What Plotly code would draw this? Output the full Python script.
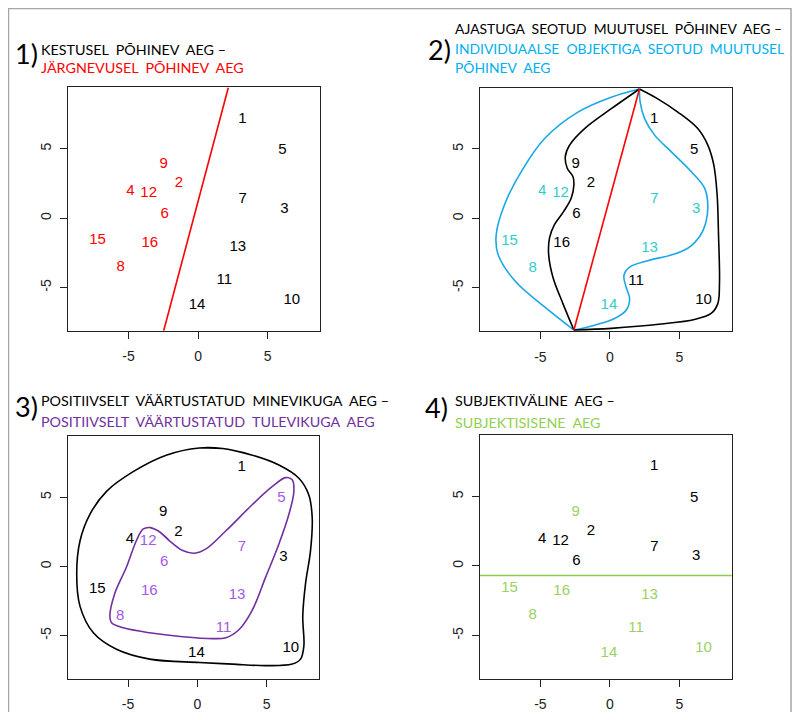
import plotly.graph_objects as go

# ---------------- data ----------------
labels = [str(i) for i in range(1, 17)]
pt_x = [3.19, -1.37, 6.21, -4.87, 6.07, -2.40, 3.21, -5.56, -2.47, 6.74, 1.89, -3.55, 2.86, -0.07, -7.22, -3.47]
pt_y = [7.14, 2.50, 0.66, 1.93, 4.90, 0.31, 1.36, -3.57, 3.88, -5.91, -4.50, 1.79, -2.12, -6.26, -1.62, -1.81]

group1 = ["9", "2", "4", "12", "6", "15", "16", "8"]          # red
group2 = ["4", "12", "15", "8", "7", "3", "13", "14"]         # cyan
group3 = ["5", "12", "7", "6", "16", "13", "8", "11"]         # purple
group4 = ["9", "15", "16", "13", "8", "11", "14", "10"]       # green

# panel 1 separating line
sep1_x = [-2.47, 2.18]
sep1_y = [-8.10, 9.40]
# panel 2 vertices / red line
vert_x = [-2.59, 2.13]
vert_y = [-8.03, 9.31]
# panel 4 horizontal line
hline4_y = -0.69

# panel 2 curves
blk_left_x = [2.13, 0.10, -1.82, -2.90, -3.21, -3.07, -2.66, -2.59, -2.78, -3.31, -3.98, -4.34, -4.41, -4.10, -3.38, -2.59]
blk_left_y = [9.31, 7.89, 6.46, 5.27, 4.44, 3.61, 3.02, 2.42, 1.47, 0.52, -0.43, -1.38, -2.57, -4.23, -6.13, -8.03]
blk_right_x = [-2.59, 0.10, 3.69, 6.09, 7.29, 7.77, 7.89, 7.82, 7.72, 7.48, 7.05, 6.33, 4.89, 3.45, 2.13]
blk_right_y = [-8.03, -7.91, -7.60, -7.27, -6.84, -6.13, -4.70, -1.14, 1.71, 3.85, 5.27, 6.46, 7.65, 8.60, 9.31]
cy_left_x = [2.13, 0.10, -2.30, -4.70, -6.38, -7.58, -8.18, -8.06, -6.86, -4.70, -2.59]
cy_left_y = [9.31, 8.72, 7.65, 5.75, 3.37, 1.00, -1.14, -2.57, -4.47, -6.37, -8.03]
cy_right_x = [-2.59, -1.10, 0.34, 1.17, 1.42, 1.17, 1.01, 1.42, 2.73, 4.65, 5.85, 6.69, 7.05, 6.81, 5.85, 4.41, 3.22, 2.50, 2.18, 2.13]
cy_right_y = [-8.03, -7.68, -7.20, -6.61, -5.77, -4.94, -4.11, -3.51, -3.04, -2.57, -1.97, -0.90, 0.76, 2.19, 3.37, 4.80, 5.99, 7.18, 8.36, 9.31]

# panel 3 closed curves
outer3_x = [0.14, 1.82, 3.97, 5.88, 7.32, 8.03, 8.28, 8.16, 7.80, 7.60, 7.68, 7.44, 6.84, 4.93, 2.54, 0.14,
            -3.44, -5.83, -7.50, -8.46, -8.70, -8.46, -7.75, -6.55, -4.63, -2.25]
outer3_y = [8.55, 8.51, 8.03, 7.32, 6.37, 5.18, 3.52, 1.14, -1.23, -3.61, -5.75, -6.70, -7.06, -7.17, -7.06, -6.94,
            -6.70, -5.99, -4.80, -2.89, -0.52, 1.85, 3.76, 5.42, 6.84, 8.03]
inner3_x = [-3.44, -2.84, -2.01, -1.05, -0.21, 0.62, 2.06, 3.97, 5.41, 6.36, 6.84, 6.96, 6.60, 5.88, 4.93, 3.97,
            3.01, 2.06, 1.10, -1.05, -3.44, -5.35, -6.19, -6.31, -5.95, -5.11, -4.40, -3.92]
inner3_y = [2.81, 2.57, 1.85, 1.14, 0.95, 1.26, 2.57, 4.47, 5.77, 6.41, 6.25, 5.42, 3.76, 1.62, -0.76, -3.14,
            -4.56, -5.15, -5.22, -5.08, -4.80, -4.44, -4.08, -3.61, -1.95, -0.05, 1.85, 2.69]

tick_vals = [-5, 0, 5]
tick_text = ["-5", "0", "5"]

# ---------------- styles ----------------
RED = "#FF0000"
CYAN_T = "#00B0F0"
CYAN_L = "#33CCCC"
CYAN_C = "#1AA7E8"
PURP_T = "#7030A0"
PURP_L = "#A259E8"
PURP_C = "#7030A0"
GREEN_T = "#92D050"
GREEN_L = "#9BD163"
GREEN_C = "#8CCB4E"
BLACK = "#000000"

XR = [-9.35, 8.77]
YR = [-8.10, 9.40]

# page has an 8px body margin: figure occupies page pixels 8..792 x 8..712
FW, FH, OFF = 784, 704, 8


def PX(x):
    return (x - OFF) / FW


def PY(y):
    return 1 - (y - OFF) / FH


domains = {
    1: ([PX(68), PX(320)], [PY(333), PY(88)]),
    2: ([PX(480), PX(731.7)], [PY(333.3), PY(88.3)]),
    3: ([PX(67.7), PX(319)], [PY(683.3), PY(439.3)]),
    4: ([PX(480), PX(731.7)], [PY(683.3), PY(438.3)]),
}

fig = go.Figure()


def ax_names(i):
    return ("x" if i == 1 else f"x{i}"), ("y" if i == 1 else f"y{i}")


def add_points(i, group, col):
    xa, ya = ax_names(i)
    colors = [col if lab in group else BLACK for lab in labels]
    fig.add_trace(go.Scatter(x=pt_x, y=pt_y, text=labels, mode="text", xaxis=xa, yaxis=ya,
                             textfont=dict(family="Liberation Sans Narrow, Liberation Sans, Arial", size=15,
                                           color=colors),
                             textposition="middle center", showlegend=False, hoverinfo="skip"))


def add_line(i, xs, ys, col, spline=True, width=1.6):
    xa, ya = ax_names(i)
    fig.add_trace(go.Scatter(x=xs, y=ys, mode="lines", xaxis=xa, yaxis=ya,
                             line=dict(color=col, width=width, shape="spline" if spline else "linear",
                                       smoothing=1.0),
                             showlegend=False, hoverinfo="skip"))


def closed(xs, ys):
    return xs + xs[:3], ys + ys[:3]


# panel 1
add_line(1, sep1_x, sep1_y, RED, spline=False, width=1.6)
add_points(1, group1, RED)

# panel 2
add_line(2, cy_left_x, cy_left_y, CYAN_C)
add_line(2, cy_right_x, cy_right_y, CYAN_C)
add_line(2, blk_left_x, blk_left_y, BLACK)
add_line(2, blk_right_x, blk_right_y, BLACK)
add_line(2, vert_x, vert_y, RED, spline=False)
add_points(2, group2, CYAN_L)

# panel 3
ox, oy = closed(outer3_x, outer3_y)
add_line(3, ox, oy, BLACK)
ix, iy = closed(inner3_x, inner3_y)
add_line(3, ix, iy, PURP_C)
add_points(3, group3, PURP_L)

# panel 4
add_points(4, group4, GREEN_L)
fig.add_shape(type="line", xref="x4 domain", yref="y4", x0=0, x1=1, y0=hline4_y, y1=hline4_y,
              line=dict(color=GREEN_C, width=1.6))

axis_common = dict(showgrid=False, zeroline=False, showline=True, mirror=True, linecolor="#222",
                   linewidth=1, ticks="outside", ticklen=7, tickcolor="#222", tickvals=tick_vals,
                   ticktext=tick_text,
                   tickfont=dict(family="Liberation Sans Narrow, Liberation Sans, Arial", size=14, color="#222"))

layout_axes = {}
for i in range(1, 5):
    xd, yd = domains[i]
    xn = "xaxis" if i == 1 else f"xaxis{i}"
    yn = "yaxis" if i == 1 else f"yaxis{i}"
    xa, ya = ax_names(i)
    layout_axes[xn] = dict(axis_common, domain=xd, range=XR, anchor=ya, ticklabelstandoff=6)
    layout_axes[yn] = dict(axis_common, domain=yd, range=YR, anchor=xa, tickangle=-90, ticklabelstandoff=3)

fig.update_layout(**layout_axes)

# ---------------- titles ----------------
TF = "Lato, Carlito, Open Sans, sans-serif"
S = "\u00a0\u00a0"


def ann(px, py, text, color, size=14.3, anchor="left"):
    fig.add_annotation(x=PX(px), y=PY(py), xref="paper", yref="paper", text=text,
                       showarrow=False, xanchor=anchor, yanchor="middle",
                       font=dict(family=TF, size=size, color=color))


ann(13, 54, "1)", BLACK, size=27)
ann(39, 50, f"KESTUSEL{S}PÕHINEV{S}AEG –", BLACK)
ann(39, 68, f"JÄRGNEVUSEL{S}PÕHINEV{S}AEG", RED)

ann(426, 50, "2)", BLACK, size=27)
ann(453, 29, f"AJASTUGA{S}SEOTUD{S}MUUTUSEL{S}PÕHINEV{S}AEG –", BLACK, size=13.9)
ann(453, 49, f"INDIVIDUAALSE{S}OBJEKTIGA{S}SEOTUD{S}MUUTUSEL", CYAN_T, size=13.9)
ann(453, 68, f"PÕHINEV{S}AEG", CYAN_T, size=13.9)

ann(13, 409, "3)", BLACK, size=27)
ann(39, 403, f"POSITIIVSELT{S}VÄÄRTUSTATUD{S}MINEVIKUGA{S}AEG –", BLACK)
ann(39, 424, f"POSITIIVSELT{S}VÄÄRTUSTATUD{S}TULEVIKUGA{S}AEG", PURP_T)

ann(423, 410, "4)", BLACK, size=27)
ann(453, 403, f"SUBJEKTIVÄLINE{S}AEG –", BLACK)
ann(453, 425, f"SUBJEKTISISENE{S}AEG", GREEN_T)

# outer frame
fig.add_shape(type="rect", xref="paper", yref="paper", x0=PX(8.5), x1=PX(791), y0=-0.05, y1=PY(8.5),
              line=dict(color="#A6A6A6", width=1.5), layer="below")

fig.update_layout(width=FW, height=FH, margin=dict(l=0, r=0, t=0, b=0),
                  paper_bgcolor="white", plot_bgcolor="white", showlegend=False)

fig.write_html("out.html")
